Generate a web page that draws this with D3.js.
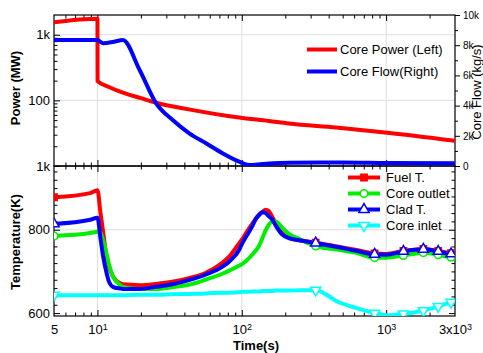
<!DOCTYPE html>
<html>
<head>
<meta charset="utf-8">
<script src="https://cdn.jsdelivr.net/npm/d3@7"></script>
<style>
  body { margin: 0; background: #fff; }
  svg { display: block; font-family: "Liberation Sans", Arial, sans-serif; }
</style>
</head>
<body>
<div id="chart"></div>
<script>
// ---- data ----
const powerTime = [5, 10, 10.02, 12, 15, 20, 25.5, 43, 96, 154, 212, 450, 984, 3000];
const powerValues = [1546, 1747, 196, 160, 131, 108, 92, 73, 54.7, 48.5, 44.4, 38.6, 32.4, 24.2];

const flowTime = [5, 10, 10.94, 13, 15, 19.6, 25.5, 33.2, 43.3, 56.5, 73.6, 96, 112, 139, 212, 500, 1000, 3000];
const flowValues = [8344, 8344, 8126, 8232, 8344, 6358, 4152, 3046, 2166, 1503, 841, 285, 66, 132, 219, 230, 200, 180];

const tempTime = [5, 8.9, 10, 10.5, 11, 11.5, 12, 12.8, 14.3, 15, 19.6, 25.5, 33, 43, 56, 74, 82, 96, 101, 107,
  118, 125, 132, 139, 146, 154, 163, 172, 190, 212, 250, 325, 470, 610, 832, 1000, 1318, 1810, 2296, 2817, 3000];
const fuelTemp = [878, 888, 895, 840, 790, 738, 712, 688, 672, 669, 667, 670, 675, 684, 696, 722, 736, 768, 778, 792,
  814, 826, 836, 843, 848, 845, 830, 815, 792, 781, 775, 769, 759, 752, 743, 742, 749, 754, 749, 744, 743];
const outletTemp = [785, 792, 795, 793, 772, 746, 718, 688, 668, 663, 658, 658, 662, 668, 680, 695, 702, 714, 718, 725,
  740, 750, 762, 780, 798, 812, 820, 820, 805, 790, 778, 761, 752, 745, 733, 733, 738, 745, 740, 734, 734];
const cladTemp = [814, 824, 829, 779, 732, 700, 676, 663, 659, 658, 658, 663, 669, 679, 692, 712, 724, 752, 768, 783,
  808, 826, 836, 842, 840, 832, 824, 810, 789, 780, 775, 768, 758, 750, 741, 740, 748, 753, 748, 742, 742];
const inletTemp = [643, 643, 643, 643, 643, 643, 643, 643, 643, 643, 644, 644, 645, 646, 647, 649, 649, 650, 651, 651,
  652, 652, 652, 653, 653, 653, 653, 654, 654, 654, 655, 655, 626, 613, 600, 595, 598, 606, 616, 626, 629];
const markerTime = [5, 325, 832, 1318, 1810, 2296, 2817];

const xLabelVals = [5, 10, 100, 1000, 3000];
const xTickLabels = [["5", ""], ["10", "1"], ["10", "2"], ["10", "3"], ["3x10", "3"]];
const powerTickVals = [10, 100, 1000];
const powerTickLabels = ["1k", "100", "1k"];
const flowTickVals = [0, 2000, 4000, 6000, 8000, 10000];
const flowTickLabels = ["0", "2k", "4k", "6k", "8k", "10k"];
const tempTickVals = [600, 800];
const tempTickLabels = ["600", "800"];

const topSeries = ["Core Power (Left)", "Core Flow(Right)"];
const tempSeries = ["Fuel T.", "Core outlet", "Clad T.", "Core inlet"];

// ---- layout ----
const width = 483, height = 353;
const left = 54, right = 455;
const topY0 = 15, midY = 166, botY1 = 316;

const svg = d3.select("#chart").append("svg")
  .attr("width", width)
  .attr("height", height);

const x = d3.scaleLog().domain([5, 3000]).range([left, right]);
const yP = d3.scaleLog().domain([10, 2000]).range([midY, topY0]);
const yF = d3.scaleLinear().domain([0, 10000]).range([midY, topY0]);
const yT = d3.scaleLinear().domain([593, 953]).range([botY1, midY]);

const gridColor = "#dddddd";

// grid
const grid = svg.append("g");
[10, 100, 1000].forEach(v => {
  grid.append("line").attr("x1", x(v)).attr("x2", x(v)).attr("y1", topY0).attr("y2", botY1)
    .attr("stroke", gridColor).attr("stroke-width", 1);
});
powerTickVals.slice(1).forEach(v => {
  grid.append("line").attr("x1", left).attr("x2", right).attr("y1", yP(v)).attr("y2", yP(v))
    .attr("stroke", gridColor);
});
grid.append("line").attr("x1", left).attr("x2", right).attr("y1", yT(800)).attr("y2", yT(800))
  .attr("stroke", gridColor);

// clip paths
const defs = svg.append("defs");
defs.append("clipPath").attr("id", "clipTop").append("rect")
  .attr("x", left).attr("y", topY0).attr("width", right - left).attr("height", midY - topY0);
defs.append("clipPath").attr("id", "clipBot").append("rect")
  .attr("x", left).attr("y", midY).attr("width", right - left).attr("height", botY1 - midY);

// minor tick values
const xMinor = [];
[1, 10, 100, 1000].forEach(d => {
  for (let k = 2; k <= 9; k++) {
    const v = k * d;
    if (v > 5 && v < 3000) xMinor.push(v);
  }
});
const pMinor = [];
[10, 100, 1000].forEach(d => {
  for (let k = 2; k <= 9; k++) if (k * d < 2000) pMinor.push(k * d);
});
const tMinor = d3.range(600, 953, 20).filter(v => v !== 600 && v !== 800);
const fMinor = d3.range(1000, 10000, 2000);

function addAxis(axis, tx, ty) {
  const g = svg.append("g").attr("transform", `translate(${tx},${ty})`).call(axis);
  g.select(".domain").remove();
  g.attr("font-family", null).attr("font-size", null);
  g.selectAll("line").attr("stroke", "#000").attr("stroke-width", 1);
  return g;
}
const noLabel = () => "";

// x ticks on the four horizontal edges (inward)
[[topY0, false], [midY, true], [midY, false], [botY1, true]].forEach(([yy, up]) => {
  const mk = up ? d3.axisBottom : d3.axisTop;
  addAxis(mk(x).tickValues([10, 100, 1000]).tickSize(-6).tickSizeOuter(0).tickFormat(noLabel), 0, yy);
  addAxis(mk(x).tickValues(xMinor).tickSize(-3.5).tickSizeOuter(0).tickFormat(noLabel), 0, yy);
});

// x labels
const xl = addAxis(d3.axisBottom(x).tickValues(xLabelVals).tickSize(0).tickSizeOuter(0).tickPadding(9)
  .tickFormat(noLabel), 0, botY1);
xl.selectAll(".tick text").each(function (d, i) {
  const t = d3.select(this).attr("font-size", 13).attr("fill", "#000");
  t.append("tspan").text(xTickLabels[i][0]);
  if (xTickLabels[i][1]) t.append("tspan").attr("dy", "-0.45em").attr("font-size", 9).text(xTickLabels[i][1]);
});

// left axes
const pAxis = addAxis(d3.axisLeft(yP).tickValues(powerTickVals).tickSize(-6).tickSizeOuter(0).tickPadding(4)
  .tickFormat((d, i) => powerTickLabels[i]), left, 0);
addAxis(d3.axisLeft(yP).tickValues(pMinor).tickSize(-3.5).tickSizeOuter(0).tickFormat(noLabel), left, 0);
const tAxis = addAxis(d3.axisLeft(yT).tickValues(tempTickVals).tickSize(-6).tickSizeOuter(0).tickPadding(4)
  .tickFormat((d, i) => tempTickLabels[i]), left, 0);
addAxis(d3.axisLeft(yT).tickValues(tMinor).tickSize(-3.5).tickSizeOuter(0).tickFormat(noLabel), left, 0);
// lower right (inward mirror)
addAxis(d3.axisRight(yT).tickValues(tempTickVals).tickSize(-6).tickSizeOuter(0).tickFormat(noLabel), right, 0);
addAxis(d3.axisRight(yT).tickValues(tMinor).tickSize(-3.5).tickSizeOuter(0).tickFormat(noLabel), right, 0);
[pAxis, tAxis].forEach(g => g.selectAll("text").attr("font-size", 13).attr("fill", "#000"));

// right flow axis (outward)
const fAxis = addAxis(d3.axisRight(yF).tickValues(flowTickVals).tickSize(5).tickSizeOuter(0).tickPadding(3)
  .tickFormat((d, i) => flowTickLabels[i]), right, 0);
addAxis(d3.axisRight(yF).tickValues(fMinor).tickSize(3).tickSizeOuter(0).tickFormat(noLabel), right, 0);
fAxis.selectAll("text").attr("font-size", 10).attr("fill", "#000");

// frames
svg.append("rect").attr("x", left).attr("y", topY0).attr("width", right - left).attr("height", midY - topY0)
  .attr("fill", "none").attr("stroke", "#000").attr("stroke-width", 1.2);
svg.append("rect").attr("x", left).attr("y", midY).attr("width", right - left).attr("height", botY1 - midY)
  .attr("fill", "none").attr("stroke", "#000").attr("stroke-width", 1.2);

// ---- top panel lines ----
const topG = svg.append("g").attr("clip-path", "url(#clipTop)");
const powerLine = d3.line().x((d, i) => x(powerTime[i])).y(d => yP(d)).curve(d3.curveMonotoneX);
const flowLine = d3.line().x((d, i) => x(flowTime[i])).y(d => yF(d)).curve(d3.curveMonotoneX);
topG.append("path").attr("d", powerLine(powerValues)).attr("fill", "none").attr("stroke", "#ff0000")
  .attr("stroke-width", 4).attr("stroke-linejoin", "round");
topG.append("path").attr("d", flowLine(flowValues)).attr("fill", "none").attr("stroke", "#0000ff")
  .attr("stroke-width", 4).attr("stroke-linejoin", "round");

// ---- lower panel lines ----
const botG = svg.append("g").attr("clip-path", "url(#clipBot)");
const tempLine = d3.line().x((d, i) => x(tempTime[i])).y(d => yT(d)).curve(d3.curveMonotoneX);
const tempDefs = [
  { values: fuelTemp, color: "#ff0000", symbol: d3.symbolSquare, size: 40, fill: "#ff0000", rot: 0 },
  { values: outletTemp, color: "#00ee00", symbol: d3.symbolCircle, size: 45, fill: "#fff", rot: 0 },
  { values: cladTemp, color: "#0000ff", symbol: d3.symbolTriangle, size: 45, fill: "#fff", rot: 0 },
  { values: inletTemp, color: "#00ffff", symbol: d3.symbolTriangle, size: 45, fill: "#fff", rot: 180 }
];
tempDefs.forEach(s => {
  botG.append("path").attr("d", tempLine(s.values)).attr("fill", "none").attr("stroke", s.color)
    .attr("stroke-width", 4).attr("stroke-linejoin", "round");
});
tempDefs.forEach(s => {
  const pts = tempTime.map((t, i) => [t, s.values[i]]).filter(p => markerTime.includes(p[0]));
  botG.selectAll(null).data(pts).enter().append("path")
    .attr("d", d3.symbol().type(s.symbol).size(s.size))
    .attr("transform", d => `translate(${x(d[0])},${yT(d[1])}) rotate(${s.rot})`)
    .attr("fill", s.fill).attr("stroke", s.color).attr("stroke-width", 1.5);
});

// ---- legends ----
const topLeg = svg.append("g");
[["#ff0000", 49.5], ["#0000ff", 71.5]].forEach(([c, yy], i) => {
  topLeg.append("line").attr("x1", 307).attr("x2", 337).attr("y1", yy).attr("y2", yy)
    .attr("stroke", c).attr("stroke-width", 4);
  topLeg.append("text").attr("x", 340).attr("y", yy + 4.5).attr("font-size", 13).text(topSeries[i]);
});
const botLeg = svg.append("g");
const legRows = [177.5, 193.5, 209.5, 225.5];
tempDefs.forEach((s, i) => {
  const yy = legRows[i];
  botLeg.append("line").attr("x1", 348).attr("x2", 380).attr("y1", yy).attr("y2", yy)
    .attr("stroke", s.color).attr("stroke-width", 4);
  botLeg.append("path").attr("d", d3.symbol().type(s.symbol).size(s.size))
    .attr("transform", `translate(364,${yy}) rotate(${s.rot})`)
    .attr("fill", s.fill).attr("stroke", s.color).attr("stroke-width", 1.5);
  botLeg.append("text").attr("x", 386).attr("y", yy + 4.5).attr("font-size", 13).text(tempSeries[i]);
});

// ---- titles ----
svg.append("text").attr("transform", "translate(20,88) rotate(-90)").attr("text-anchor", "middle")
  .attr("font-size", 13).attr("font-weight", "bold").text("Power (MW)");
svg.append("text").attr("transform", "translate(20,242) rotate(-90)").attr("text-anchor", "middle")
  .attr("font-size", 13).attr("font-weight", "bold").text("Temperature(K)");
svg.append("text").attr("transform", "translate(481,92) rotate(-90)").attr("text-anchor", "middle")
  .attr("font-size", 13).text("Core Flow (kg/s)");
svg.append("text").attr("x", 256).attr("y", 350).attr("text-anchor", "middle")
  .attr("font-size", 13).attr("font-weight", "bold").text("Time(s)");
</script>
</body>
</html>
